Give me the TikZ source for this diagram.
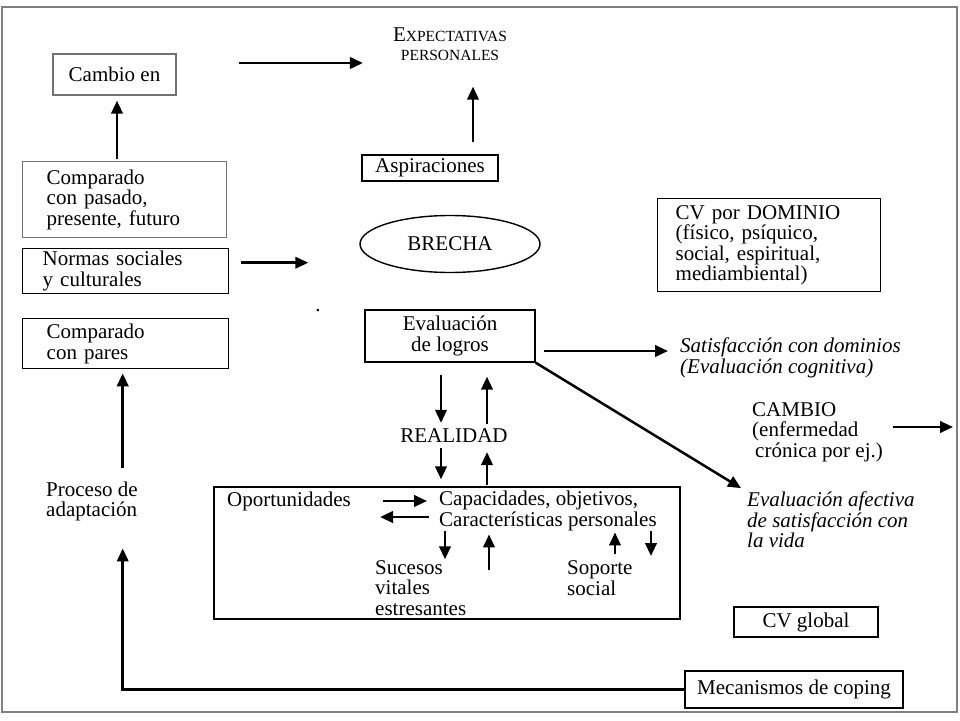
\documentclass[tikz,border=0pt]{standalone}
\usepackage{fontspec}
\setmainfont{Liberation Serif}
\usepackage{tikz}
\usetikzlibrary{arrows.meta,shapes.geometric,positioning}
\tikzset{%
  plain text/.style={
    font=\fontsize{21}{20.5}\selectfont,
    inner sep=0pt,
    align=left
  },
  italic text/.style={
    plain text,
    font=\fontsize{21}{20.5}\selectfont\itshape
  },
  every box/.style={
    plain text,
    draw,
    line width=1.4pt
  },
  arrow line/.style={
    -{Triangle[length=13pt,width=11.5pt]},
    line width=2.5pt
  },
}
\begin{document}
\begin{tikzpicture}[x=1pt, y=-1pt]

\useasboundingbox (0,0) rectangle (960,720);
\draw [gray, line width=1.8pt] (2,7) rectangle (957,712);

\node [every box, draw=black!55, minimum width=123pt, minimum height=41pt] (cambio) at (114.5,74.5) {Cambio en};
\node [plain text, align=center, font=\fontsize{15.5}{19}\selectfont] (expect) at (450,44)
  {{\fontsize{21}{19}\selectfont E}XPECTATIVAS\\PERSONALES};
\node [every box, minimum width=136pt, minimum height=26pt] (aspir) at (430,168) {Aspiraciones};
\node [every box, ellipse, minimum width=180pt, minimum height=57pt] (brecha) at (450,244) {BRECHA};
\node [plain text] (punto) at (318,311) {.};

\node [every box, draw=black!55, anchor=north west, text width=156pt, inner xsep=24pt, minimum height=76pt] (compas) at (22,161)
  {Comparado\\con pasado,\\presente, futuro};
\node [every box, anchor=north west, text width=166pt, inner xsep=20pt, minimum height=45pt] (normas) at (22,248)
  {Normas sociales\\y culturales};
\node [every box, anchor=north west, text width=158pt, inner xsep=24pt, minimum height=50pt] (pares) at (22,318)
  {Comparado\\con pares};
\node [plain text, anchor=west] (proceso) at (46,501.5) {Proceso de\\adaptación};

\node [every box, anchor=north west, text width=187pt, inner xsep=18pt, minimum height=93pt] (cvdom) at (657,198)
  {CV por DOMINIO\\(físico, psíquico,\\social, espiritual,\\mediambiental)};
\node [every box, align=center, minimum width=170pt, minimum height=52pt] (evalog) at (450,336) {Evaluación\\de logros};
\node [italic text, anchor=west] (satisf) at (680,358) {Satisfacción con dominios\\(Evaluación cognitiva)};
\node [plain text, anchor=west] (enferm) at (752,432) {CAMBIO\\(enfermedad\\\hspace*{3pt}crónica por ej.)};
\coordinate (enferm out) at (953,427);
\node [italic text, anchor=west] (afect) at (747,520) {Evaluación afectiva\\de satisfacción con\\la vida};
\node [plain text] (realidad) at (454,436) {REALIDAD};

\node [draw, line width=1.4pt, minimum width=466pt, minimum height=132pt] (entorno) at (447,553) {};
\node [plain text, anchor=west] (oport) at (227,501) {Oportunidades};
\node [plain text, anchor=west] (capac) at (439,511) {Capacidades, objetivos,\\Características personales};
\node [plain text, anchor=west] (sucesos) at (375,588) {Sucesos\\vitales\\estresantes};
\node [plain text, anchor=west] (soporte) at (567,578) {Soporte\\social};

\node [every box, minimum width=144pt, minimum height=30pt] (cvglob) at (806,622) {CV global};
\node [every box, minimum width=218pt, minimum height=37pt] (mecan) at (794,689.5) {Mecanismos de coping};

\draw [arrow line, shorten <=62pt, shorten >=30pt] ([yshift=11.5pt]cambio.east) -- ([yshift=11.5pt]cambio.east -| expect.west);
\draw [arrow line, shorten <=12pt, shorten >=26pt] ([xshift=43pt]aspir.north) -- ([xshift=43pt]aspir.north |- expect.south);
\draw [arrow line, shorten <=2pt, shorten >=5pt] ([xshift=2.5pt]cambio.south |- compas.north) -- ([xshift=2.5pt]cambio.south);
\draw [arrow line, shorten <=12pt, shorten >=51pt] ([yshift=8.5pt]normas.east) -- ([yshift=8.5pt]normas.east -| brecha.west);
\draw [arrow line, shorten <=14pt, shorten >=4pt] ([xshift=-3pt]pares.south |- proceso.north) -- ([xshift=-3pt]pares.south);
\draw [arrow line, shorten >=27pt] (mecan.west) -| ([xshift=-3pt]pares.south |- proceso.south);

\draw [arrow line, shorten <=8pt, shorten >=12pt] ([yshift=-15pt]evalog.east) -- ([yshift=-15pt]evalog.east -| satisf.west);
\draw [arrow line, shorten >=7pt] (evalog.south east) -- (afect.north west);
\draw [arrow line, shorten <=9.5pt] ([yshift=5pt]enferm.east) -- (enferm out);

\draw [arrow line, shorten <=12pt, shorten >=6pt] ([xshift=-9pt]evalog.south) -- ([xshift=-9pt]evalog.south |- realidad.north);
\draw [arrow line, shorten <=5pt, shorten >=14pt] ([xshift=37pt]evalog.south |- realidad.north) -- ([xshift=37pt]evalog.south);
\draw [arrow line, shorten <=5pt, shorten >=7pt] ([xshift=-13pt]realidad.south) -- ([xshift=-13pt]realidad.south |- entorno.north);
\draw [arrow line, shorten <=1pt, shorten >=9pt] ([xshift=33pt]realidad.south |- entorno.north) -- ([xshift=33pt]realidad.south);

\draw [arrow line, shorten <=32pt, shorten >=12pt] (oport.east) -- (oport.east -| capac.west);
\draw [arrow line, shorten <=10pt, shorten >=29pt] ([yshift=-16pt]oport.east -| capac.west) -- ([yshift=-16pt]oport.east);
\draw [arrow line, shorten >=1pt] ([xshift=6pt]capac.south west) -- ([xshift=6pt]capac.south west |- sucesos.north);
\draw [arrow line, shorten <=18pt, shorten >=3.5pt] ([xshift=50pt]capac.south west |- sucesos.west) -- ([xshift=50pt]capac.south west);
\draw [arrow line, shorten <=6.5pt, shorten >=1.5pt] ([xshift=48pt]soporte.north west) -- ([xshift=48pt]soporte.north west |- capac.south);
\draw [arrow line, shorten >=4.5pt] ([xshift=84pt]soporte.north west |- capac.south) -- ([xshift=84pt]soporte.north west);

\end{tikzpicture}
\end{document}
